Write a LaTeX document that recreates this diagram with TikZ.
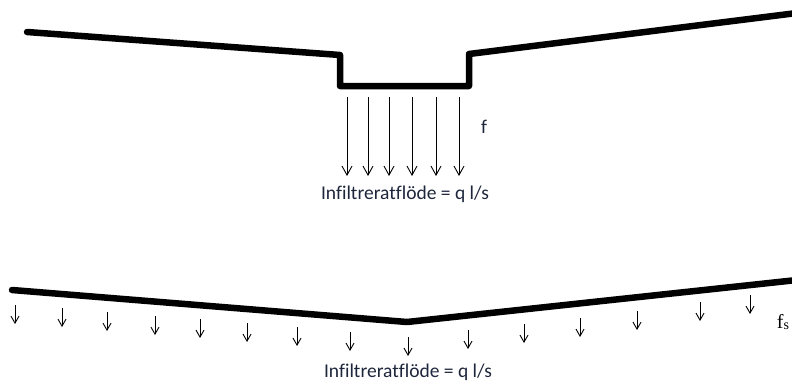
\documentclass[tikz,border=0pt]{standalone}
\usepackage{fontspec}
\setmainfont[Ligatures=NoCommon]{Carlito}
\newfontfamily\serifface{Liberation Serif}
\usetikzlibrary{arrows.meta}
\definecolor{txt}{RGB}{30,38,60}
\begin{document}
\begin{tikzpicture}[x=1pt,y=-1pt,
  ground/.style={line width=6.5pt,line join=round,line cap=round},
  flowarrow/.style={line width=0.9pt,-{Straight Barb[length=9pt,width=10pt,line width=0.9pt]}},
  smallarrow/.style={line width=0.9pt,-{Straight Barb[length=7pt,width=8pt,line width=0.9pt]}},
  lbl/.style={font=\fontsize{19.5}{22}\selectfont,text=txt,inner sep=0pt}]
\useasboundingbox (0,0) rectangle (792,383);
% top profile
\coordinate (t1) at (27,32);
\coordinate (t2) at (340,55);
\coordinate (t3) at (340,86);
\coordinate (t4) at (469,86);
\coordinate (t5) at (469,54);
\coordinate (t6) at (797,13);
\draw[ground] (t1) -- (t2) -- (t3) -- (t4) -- (t5) -- (t6);
% top arrows
\foreach \i/\x in {1/347,2/368,3/389,4/412,5/436,6/459}{
  \coordinate (a\i) at (\x,97);
  \coordinate (b\i) at (\x,176);
  \draw[flowarrow] (a\i) -- (b\i);
}
\node[lbl] (f) at (484,127) {f};
\node[lbl] (q1) at (405,194) {Infiltreratflöde = q l/s};
% bottom profile
\coordinate (u1) at (12,290);
\coordinate (u2) at (407,322);
\coordinate (u3) at (797,280);
\draw[ground] (u1) -- (u2) -- (u3);
% bottom arrows
\foreach \i/\x/\y in {1/15/305,2/62/308,3/107/312,4/155/316,5/200/319,6/247/323,7/297/327,8/350/332,9/408/337,10/468/330,11/524/324,12/580/318,13/637/311,14/700/302,15/750/295}{
  \coordinate (c\i) at (\x,\y);
  \coordinate (d\i) at (\x,\y+19);
  \draw[smallarrow] (c\i) -- (d\i);
}
\node[inner sep=0pt,text=black] (fs) at (783,322) {\serifface\fontsize{20}{22}\selectfont f\raisebox{-0.2ex}{\fontsize{14}{15}\selectfont s}};
\node[lbl] (q2) at (408,372) {Infiltreratflöde = q l/s};
\end{tikzpicture}
\end{document}
